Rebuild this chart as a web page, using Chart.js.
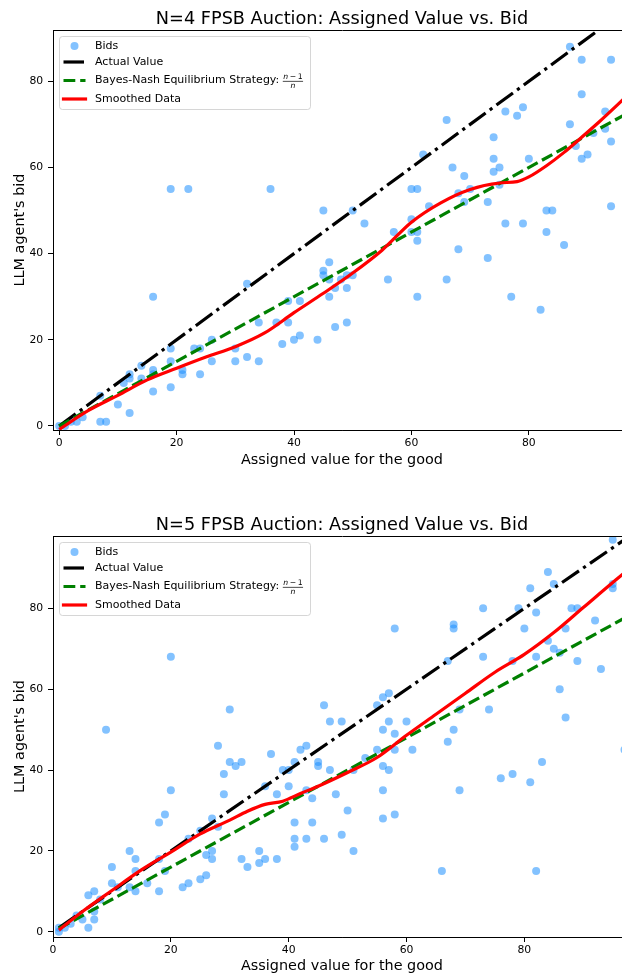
<!DOCTYPE html>
<html><head><meta charset="utf-8">
<script src="https://cdn.jsdelivr.net/npm/chart.js@4.4.0/dist/chart.umd.min.js"></script>
<style>
html,body{margin:0;padding:0;overflow:hidden;background:#fff;width:622px;height:976px;}
.wrap{position:absolute;left:0;width:684px;height:488px;}
canvas{display:block;}
</style></head><body>
<div class="wrap" style="top:0"><canvas id="c1" width="684" height="488"></canvas></div>
<div class="wrap" style="top:488px"><canvas id="c2" width="684" height="488"></canvas></div>
<script>
// ---------- data ----------
const titleN4 = 'N=4 FPSB Auction: Assigned Value vs. Bid';
const titleN5 = 'N=5 FPSB Auction: Assigned Value vs. Bid';
const xAxisTitle = 'Assigned value for the good';
const yAxisTitle = "LLM agent's bid";
const legendLabels = ['Bids', 'Actual Value', 'Bayes-Nash Equilibrium Strategy: ', 'Smoothed Data'];
const xTickValues = [0, 20, 40, 60, 80];
const yTickValues = [0, 20, 40, 60, 80];

// N=4 bids
const n4Values = [0,1,2,3,4,7,7,8,10,12,11,12,12,14,14,16,16,16,16,19,19,19,21,21,23,24,24,26,26,30,30,32,32,34,34,37,38,39,39,40,41,41,44,45,45,46,46,46,47,47,48,49,49,49,50,19,22,36,45,50,52,56,57,60,60,61,61,61,60,61,63,62,66,66,67,68,68,69,69,70,73,73,74,74,74,75,75,76,76,77,78,79,79,80,82,83,83,84,86,87,87,88,89,89,89,90,91,93,93,94,94,94];
const n4Bids   = [0,0,1,1,2,7,1,1,5,3,10,12,11,14,11,30,13,12,8,18,15,9,13,12,18,18,12,20,15,18,15,33,16,24,15,24,19,29,24,20,29,21,20,36,35,38,34,30,32,23,34,35,32,24,35,55,55,55,50,50,47,34,45,48,45,45,43,30,55,55,51,63,34,71,60,54,41,58,52,55,52,39,67,62,59,60,56,73,47,30,72,74,47,62,27,50,45,50,42,88,70,65,85,77,62,63,68,73,69,85,66,51];
const n4SmoothX = [0,5,10,15,20,25,30,35,40,45,50,55,60,65,70,75,78,80,83,86,89,92,95,97];
const n4SmoothY = [-0.8,3.6,7.1,10.7,13.4,16.0,18.4,21.6,26.3,30.8,35.5,40.8,47.3,51.8,54.9,56.4,56.7,57.8,60.4,63.5,67.0,70.6,74.4,77.0];
const n4LineX = [0, 98];

// N=5 bids
const n5Values = [1,1,2,3,4,5,6,6,7,7,7,8,9,10,10,11,13,13,14,14,14,16,18,18,18,19,19,20,20,22,23,23,25,25,26,26,27,27,27,28,28,29,29,30,30,31,32,32,33,35,35,36,36,37,38,38,39,40,40,41,41,41,41,42,43,43,43,44,44,45,45,46,46,47,47,48,49,49,50,51,51,53,55,55,56,56,56,56,56,57,57,57,58,58,58,58,60,61,66,67,67,68,68,68,69,69,73,73,74,76,78,78,79,80,81,81,82,82,82,83,84,84,85,85,86,86,87,87,88,89,89,92,93,95,95,95,97];
const n5Bids   = [1,0,1,2,4,3,9,1,10,5,3,8,50,16,12,11,20,11,18,15,10,12,27,18,10,29,15,68,35,11,23,12,25,13,19,14,28,20,18,46,26,39,34,55,42,41,42,18,16,20,17,36,18,44,34,18,40,40,36,42,27,23,21,45,46,35,23,33,27,42,41,56,23,52,40,34,52,24,30,40,20,43,56,45,58,50,41,35,28,59,52,40,75,49,45,29,52,45,15,67,47,76,75,50,55,35,80,68,55,38,67,39,80,75,85,37,79,68,15,42,89,72,86,70,69,60,75,53,80,80,67,77,65,97,86,85,45];
const n5SmoothX = [1,5,10,15,20,25,30,33,36,39,42,45,50,55,60,65,70,75,80,85,90,95,98];
const n5SmoothY = [0.4,5.0,10.2,15.3,19.7,24.2,27.6,29.8,31.5,32.3,34.2,36.0,39.4,43.1,48.6,53.8,59.0,64.2,68.6,74.0,80.2,86.4,90.0];
const n5LineX = [1, 98];

// ---------- drawing ----------
const FONT = '"DejaVu Sans", sans-serif';
const BID_COLOR = 'rgba(30,144,255,0.55)';
const LW = 3.2;
const DASH_BNE = [11.8, 4.9];
const DASH_ACT = [20.5, 5.1, 3.2, 5.1];

function pts(xs, ys) { return xs.map((x, i) => ({x: x, y: ys[i]})); }

function rrect(ctx, x, y, w, h, r) {
  ctx.beginPath();
  ctx.moveTo(x + r, y);
  ctx.lineTo(x + w - r, y); ctx.arcTo(x + w, y, x + w, y + r, r);
  ctx.lineTo(x + w, y + h - r); ctx.arcTo(x + w, y + h, x + w - r, y + h, r);
  ctx.lineTo(x + r, y + h); ctx.arcTo(x, y + h, x, y + h - r, r);
  ctx.lineTo(x, y + r); ctx.arcTo(x, y, x + r, y, r);
  ctx.closePath();
}

const framePlugin = {
  id: 'frame',
  afterDatasetsDraw(chart) {
    const ctx = chart.ctx, a = chart.chartArea;
    ctx.save();
    ctx.strokeStyle = '#000'; ctx.lineWidth = 1;
    ctx.beginPath();
    ctx.moveTo(a.left + 0.5, a.bottom + 0.5);
    ctx.lineTo(a.left + 0.5, a.top + 0.5);
    ctx.lineTo(a.right + 0.5, a.top + 0.5);
    ctx.lineTo(a.right + 0.5, a.bottom + 0.5);
    ctx.closePath();
    ctx.stroke();
    ctx.restore();
  }
};

const legendPlugin = {
  id: 'mplLegend',
  afterDraw(chart) {
    const ctx = chart.ctx, a = chart.chartArea;
    const bx = a.left + 6, by = a.top + 6, bw = 251, bh = 73;
    ctx.save();
    rrect(ctx, bx + 0.5, by + 0.5, bw, bh, 3);
    ctx.fillStyle = 'rgba(255,255,255,0.8)'; ctx.fill();
    ctx.strokeStyle = 'rgba(204,204,204,0.8)'; ctx.lineWidth = 1; ctx.stroke();
    const rows = [by + 10, by + 26, by + 44.5, by + 63];
    const hx0 = bx + 4.5, hx1 = bx + 26.5, tx = bx + 36;
    ctx.fillStyle = BID_COLOR;
    ctx.beginPath(); ctx.arc(bx + 15.5, rows[0], 4, 0, Math.PI * 2); ctx.fill();
    const handle = (y, color, dash, cap) => {
      ctx.beginPath(); ctx.setLineDash(dash); ctx.lineCap = cap;
      ctx.strokeStyle = color; ctx.lineWidth = LW;
      ctx.moveTo(hx0, y); ctx.lineTo(hx1, y); ctx.stroke();
    };
    handle(rows[1], '#000000', DASH_ACT, 'butt');
    handle(rows[2], '#008000', DASH_BNE, 'butt');
    handle(rows[3], '#ff0000', [], 'square');
    ctx.setLineDash([]);
    ctx.fillStyle = '#000'; ctx.textBaseline = 'middle'; ctx.textAlign = 'left';
    ctx.font = '11px ' + FONT;
    legendLabels.forEach((t, i) => ctx.fillText(t, tx, rows[i]));
    // fraction (n-1)/n
    const fx = tx + ctx.measureText(legendLabels[2]).width;
    const small = 7.7;
    ctx.font = 'italic ' + small + 'px ' + FONT;
    const wn = ctx.measureText('n').width;
    ctx.font = small + 'px ' + FONT;
    const wr = ctx.measureText('\u2009\u2212\u20091').width;
    const fw = wn + wr + 1;
    const yc = rows[2];
    ctx.font = 'italic ' + small + 'px ' + FONT;
    ctx.fillText('n', fx + 0.5, yc - 3.6);
    ctx.font = small + 'px ' + FONT;
    ctx.fillText('\u2009\u2212\u20091', fx + 0.5 + wn, yc - 3.6);
    ctx.fillRect(fx, yc + 0.4, fw, 0.7);
    ctx.font = 'italic ' + small + 'px ' + FONT;
    ctx.fillText('n', fx + fw / 2 - wn / 2, yc + 5.6);
    ctx.restore();
  }
};

function buildChart(id, o) {
  const bne = o.lineX.map(x => x * (o.n - 1) / o.n);
  const tickFont = {family: FONT, size: 10.8};
  new Chart(document.getElementById(id), {
    type: 'scatter',
    data: {datasets: [
      {label: legendLabels[3], data: pts(o.smoothX, o.smoothY), showLine: true, borderColor: '#ff0000',
       borderWidth: LW, pointRadius: 0, cubicInterpolationMode: 'monotone', borderJoinStyle: 'round', order: 1, clip: 0},
      {label: legendLabels[2], data: pts(o.lineX, bne), showLine: true, borderColor: '#008000',
       borderWidth: LW, borderDash: DASH_BNE, borderCapStyle: 'butt', pointRadius: 0, order: 2, clip: 0},
      {label: legendLabels[1], data: pts(o.lineX, o.lineX), showLine: true, borderColor: '#000000',
       borderWidth: LW, borderDash: DASH_ACT, borderCapStyle: 'butt', pointRadius: 0, order: 3, clip: 0},
      {label: legendLabels[0], data: pts(o.bidX, o.bidY), backgroundColor: BID_COLOR, borderWidth: 0,
       pointRadius: 4, pointHoverRadius: 4, order: 4, clip: 0}
    ]},
    options: {
      responsive: false, animation: false, devicePixelRatio: 1, events: [],
      layout: {padding: 0},
      plugins: {
        legend: {display: false}, tooltip: {enabled: false},
        title: {display: true, text: o.title, color: '#000',
                font: {family: FONT, size: 17.7, weight: 'normal', lineHeight: 1},
                padding: {top: o.titlePad, bottom: 2}}
      },
      scales: {
        x: {type: 'linear', position: 'bottom', min: o.xMin, max: o.xMax,
            afterBuildTicks: s => { s.ticks = xTickValues.map(v => ({value: v})); },
            afterFit: s => { s.height = o.xAxisH; },
            ticks: {color: '#000', font: tickFont, padding: 2, maxRotation: 0, autoSkip: false, callback: v => String(v)},
            grid: {drawOnChartArea: false, drawTicks: true, tickLength: 5, tickWidth: 1, color: '#000'},
            border: {display: true, color: '#000', width: 1},
            title: {display: true, text: xAxisTitle, color: '#000', font: {family: FONT, size: 14.4},
                    padding: {top: 0, bottom: o.xTitlePad}}},
        y: {type: 'linear', position: 'left', min: o.yMin, max: o.yMax,
            afterBuildTicks: s => { s.ticks = yTickValues.map(v => ({value: v})); },
            afterFit: s => { s.width = 53; },
            ticks: {color: '#000', font: tickFont, padding: 4.8, autoSkip: false, callback: v => String(v)},
            grid: {drawOnChartArea: false, drawTicks: true, tickLength: 5, tickWidth: 1, color: '#000'},
            border: {display: true, color: '#000', width: 1},
            title: {display: true, text: yAxisTitle, color: '#000', font: {family: FONT, size: 14.4},
                    padding: {top: 11.4, bottom: 0}}},
        yR: {type: 'linear', position: 'right', min: 0, max: 1,
             afterFit: s => { s.width = 53; },
             ticks: {display: false}, grid: {display: false}, border: {display: false}, title: {display: false}}
      }
    },
    plugins: [framePlugin, legendPlugin]
  });
}

buildChart('c1', {n: 4, title: titleN4, bidX: n4Values, bidY: n4Bids, smoothX: n4SmoothX, smoothY: n4SmoothY,
  lineX: n4LineX, xMin: -1.05, xMax: 97.4, yMin: -0.93, yMax: 91.9, titlePad: 10.3, xAxisH: 58, xTitlePad: 19.4});
buildChart('c2', {n: 5, title: titleN5, bidX: n5Values, bidY: n5Bids, smoothX: n5SmoothX, smoothY: n5SmoothY,
  lineX: n5LineX, xMin: 0, xMax: 98.1, yMin: -1.3, yMax: 97.9, titlePad: 28.3, xAxisH: 39, xTitlePad: 1.4});
</script>
</body></html>
